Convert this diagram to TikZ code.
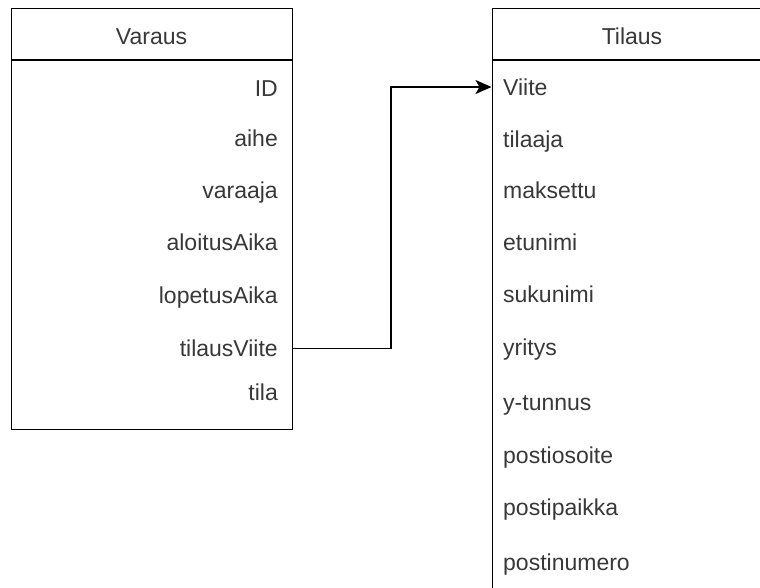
\documentclass[tikz,border=0pt]{standalone}
\usepackage{fontspec}
\setmainfont{Liberation Sans}
\usetikzlibrary{arrows.meta}
\definecolor{txt}{HTML}{383838}
\begin{document}
\begin{tikzpicture}[x=1pt,y=-1pt,
  box/.style={draw=black, line width=1.3pt, anchor=north west, inner sep=0pt},
  rtext/.style={anchor=base east, text=txt, inner sep=0pt, font=\fontsize{23}{26}\selectfont},
  ltext/.style={anchor=base west, text=txt, inner sep=0pt, font=\fontsize{23}{26}\selectfont},
  htext/.style={anchor=base, text=txt, inner sep=0pt, font=\fontsize{23}{26}\selectfont},
  conn/.style={draw=black, line width=1.3pt, -{Stealth[length=16pt,width=14pt,inset=4pt]}}]
\useasboundingbox (0,0) rectangle (760,587);
\begin{scope}
\clip (0,0) rectangle (760,587);
% Varaus box
\node[box, minimum width=281pt, minimum height=421pt] (varaus) at (11,8) {};
\draw[line width=1.3pt] (11,60) -- (292,60);
\node[htext] (vh) at (151.5,44) {Varaus};
\node[rtext] (v1) at (278,96) {ID};
\node[rtext] (v2) at (278,146) {aihe};
\node[rtext] (v3) at (278,198) {varaaja};
\node[rtext] (v4) at (278,250) {aloitusAika};
\node[rtext] (v5) at (278,303) {lopetusAika};
\node[rtext] (v6) at (278,356) {tilausViite};
\node[rtext] (v7) at (278,400) {tila};
% Tilaus box
\node[box, minimum width=282pt, minimum height=640pt] (tilaus) at (491.5,8) {};
\draw[line width=1.3pt] (491.5,60) -- (773.5,60);
\node[htext] (th) at (632,44) {Tilaus};
\node[ltext] (t1) at (503,95) {Viite};
\node[ltext] (t2) at (503,147) {tilaaja};
\node[ltext] (t3) at (503,198) {maksettu};
\node[ltext] (t4) at (503,250) {etunimi};
\node[ltext] (t5) at (503,302) {sukunimi};
\node[ltext] (t6) at (503,355) {yritys};
\node[ltext] (t7) at (503,410) {y-tunnus};
\node[ltext] (t8) at (503,463) {postiosoite};
\node[ltext] (t9) at (503,515) {postipaikka};
\node[ltext] (t10) at (503,570) {postinumero};
% connector
\coordinate (rowV) at (0,348.5);
\coordinate (rowT) at (0,87);
\coordinate (bend) at (391,0);
\draw[conn] (varaus.east |- rowV) -- (bend |- rowV) -- (bend |- rowT) -- (tilaus.west |- rowT);
\end{scope}
\end{tikzpicture}
\end{document}
